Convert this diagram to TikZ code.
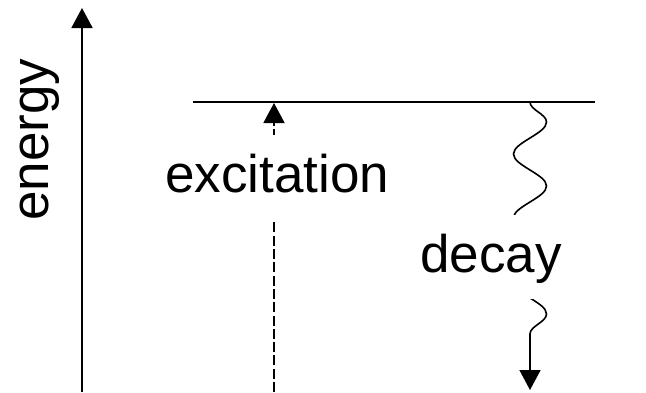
\documentclass[tikz,border=0pt]{standalone}
\usepackage{fontspec}
\setmainfont{Liberation Sans}
\usetikzlibrary{arrows.meta,decorations.pathmorphing}
\begin{document}
\begin{tikzpicture}[x=1pt,y=-1pt,
  lbl/.style={font=\fontsize{53}{60}\selectfont, inner sep=0pt},
  masklbl/.style={lbl, fill=white, inner xsep=2pt, inner ysep=13pt, text height=44pt, text depth=14pt, anchor=base west},
  line/.style={line width=1.8pt},
  tip/.style={-{Triangle[length=20pt,width=21pt]}},
]
\useasboundingbox (0,0) rectangle (646,392);
\coordinate (axb) at (82,392);
\coordinate (axt) at (82,8);
\coordinate (lvl0) at (193,102);
\coordinate (lvl1) at (595,102);
\coordinate (exb) at (274,392);
\coordinate (ext) at (274,103);
\coordinate (dcs) at (530,102);
\coordinate (dce) at (530,390);
\draw[line, tip] (axb) -- (axt);
\draw[line] (lvl0) -- (lvl1);
\draw[line, dash pattern=on 10pt off 3.3pt, tip] (exb) -- (ext);
\draw[line width=1.6pt, tip, decorate, decoration={snake, segment length=64pt, amplitude=16.5pt, post length=32pt}] (dcs) -- (dce);
\node[lbl, rotate=90, anchor=base west] (energy) at (48,221) {energy};
\node[masklbl] (exc) at (163,192) {excitation};
\node[masklbl] (dec) at (418,272) {decay};
\end{tikzpicture}
\end{document}
